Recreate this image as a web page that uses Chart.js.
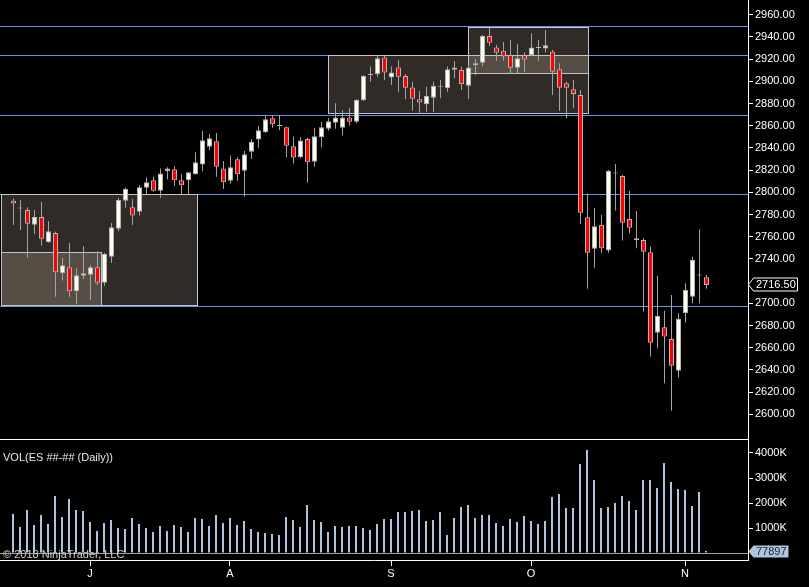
<!DOCTYPE html>
<html><head><meta charset="utf-8">
<script src="https://cdn.jsdelivr.net/npm/chart.js@4.4.1/dist/chart.umd.min.js"></script>
<style>
html,body{margin:0;padding:0;background:#000;overflow:hidden;}
#wrap{position:relative;width:809px;height:587px;background:#000;}
#pc{position:absolute;left:0;top:0;}
#vc{position:absolute;left:0;top:439px;}
.txt{position:absolute;font:11px "Liberation Sans",Arial,sans-serif;white-space:nowrap;line-height:13px;}
</style></head><body>
<div id="wrap">
<canvas id="pc" width="809" height="439"></canvas>
<canvas id="vc" width="809" height="148"></canvas>
<div class="txt" style="left:3px;top:451px;color:#e8e8e8">VOL(ES ##-## (Daily))</div>
<div class="txt" style="left:3px;top:548px;color:#d0d0d0">© 2018 NinjaTrader, LLC</div>
</div>
<script>
const OPEN = [2792.5,2785.5,2784,2770.75,2777.75,2755.25,2763.25,2727,2732.5,2710.75,
2724.75,2725.75,2732.5,2718.5,2742,2767.25,2792.5,2786.5,2782.5,2804,
2810.75,2801.5,2819,2820.75,2810.75,2810.75,2816.25,2825,2841,2846,
2821.5,2810.5,2829.75,2819.5,2836.5,2847.5,2854.25,2866.75,2859.75,2858.5,
2841.5,2831.5,2848,2827.5,2849.5,2857.25,2862.75,2858.25,2867.5,2863.5,
2883.25,2905.75,2906.25,2921.5,2903.5,2912.5,2904.75,2894.5,2883.75,2879.25,
2885.25,2895,2893.75,2910.5,2910.25,2896,2914.5,2916.75,2940.75,2930.5,
2927.5,2923.75,2912.25,2923.5,2923.5,2930,2929.5,2926.75,2910.75,2898.25,
2892.75,2887.75,2777.5,2749.25,2770.5,2747.5,2817,2814.75,2776,2758.5,
2757,2746,2673.5,2678.5,2667.75,2639.25,2691,2706,2725,2723.5];
const HIGH = [2794.5,2793,2786.5,2784,2791.25,2774,2764.5,2740.75,2754.25,2731.5,
2751.5,2734.5,2747,2745.5,2772.25,2795,2804,2794,2806.5,2813.25,
2814,2821.5,2822.5,2823.5,2816.75,2818.25,2836,2855.25,2852.5,2853.5,
2828.25,2833.25,2831.5,2837.25,2848,2859.75,2869,2869,2869.5,2859,
2850,2849.5,2849.25,2858,2863.25,2866.75,2880.25,2874,2876,2883.75,
2905.75,2913.25,2922.75,2922.75,2913.25,2919.25,2906.5,2899.5,2891.25,2895,
2899.5,2901.25,2913.25,2918.25,2913.25,2914.75,2920,2941.75,2948.5,2932.75,
2935.5,2937.25,2933.5,2926,2943.25,2937.25,2946.25,2928.25,2916.25,2899.5,
2901.25,2892.25,2799,2786,2779.5,2820,2825.5,2815.5,2801.25,2783.25,
2758.5,2751,2724.5,2693.25,2707.5,2691,2718,2742,2766.75,2725.5];
const LOW = [2770.5,2766,2741,2762.5,2752,2754.5,2706,2720.5,2706,2699.5,
2722,2703,2716.5,2715.5,2736.5,2765,2786,2770.5,2779,2798.5,
2800.5,2795,2811.75,2805.75,2798.25,2798.25,2816,2819,2838,2814,
2803,2808,2810.5,2796,2830,2840.25,2853.5,2858.25,2856,2831.5,
2826,2830.5,2808.5,2823,2840.5,2855.5,2857.25,2851.5,2860,2862.25,
2882.25,2899.5,2904,2901.25,2896.75,2890.5,2883.75,2873.5,2871.75,2872.5,
2872.5,2884.75,2890.5,2902.75,2892.25,2884,2905.75,2913.75,2931.75,2918.5,
2918.5,2907.25,2907.25,2908.5,2922.75,2918.5,2926,2887.75,2873.5,2866.75,
2875.75,2771.5,2713,2732,2745.5,2745.5,2783.5,2756.5,2763,2749.5,
2692.5,2652,2659.5,2628,2603.25,2633.25,2682.5,2700,2700,2713];
const CLOSE = [2790,2785.5,2771.75,2777.75,2758.25,2765,2728,2734.25,2710.75,2725.25,
2727,2732.5,2718.5,2744.5,2768.5,2793,2803,2779,2804.5,2809,
2801.5,2817,2821.5,2810.75,2806.25,2818,2827,2847,2848.75,2823,
2809,2822.5,2816.25,2834.25,2845.5,2856,2865.75,2861.25,2859.75,2842,
2831.25,2846.75,2827,2850.5,2858.5,2864,2867.5,2867.5,2863.5,2883.25,
2904.75,2905.75,2920.75,2908,2908,2904,2894.25,2884.25,2881,2886.75,
2895.75,2895,2910.75,2912.5,2897.5,2912.5,2916.25,2940.75,2934.75,2925.75,
2922.25,2912.25,2920.75,2919.75,2930.5,2930,2932.5,2908.5,2894.25,2894.25,
2888.5,2781.5,2745.5,2769.5,2749.5,2819.25,2817,2772.5,2768,2756.75,
2746.5,2664.5,2688.5,2670,2643.75,2686,2712,2739,2725,2716.5];
const VOLUME = [1560000,1040000,1720000,1120000,1520000,1160000,2280000,1440000,2160000,1720000,
1680000,1240000,880000,1200000,1320000,1000000,960000,1400000,1160000,1000000,
840000,1080000,880000,1120000,1040000,840000,1400000,1360000,1080000,1520000,
1200000,1400000,1120000,1280000,960000,840000,800000,760000,720000,1440000,
1320000,1040000,1920000,1320000,1240000,840000,1080000,1040000,1080000,1080000,
1000000,920000,1160000,1360000,1360000,1640000,1640000,1680000,1720000,1280000,
1320000,1640000,720000,1400000,1840000,1920000,1400000,1520000,1520000,1200000,
1080000,1360000,1240000,1480000,1280000,1160000,1280000,2240000,2360000,1800000,
1800000,3560000,4120000,2920000,1800000,1840000,2000000,2280000,2080000,1720000,
2920000,2920000,2600000,3600000,2840000,2560000,2520000,1880000,2440000,77897];
const PRICE_TICKS = [2600,2620,2640,2660,2680,2700,2720,2740,2760,2780,2800,2820,2840,2860,2880,2900,2920,2940,2960];
const VOL_TICKS = [0,1000000,2000000,3000000,4000000];
const MONTH_LABELS = ['J','A','S','O','N'];
const MONTH_POS = [11,31,54,74,96];
const LEVELS = [2950,2923.75,2869.5,2798.25,2697.5];
const BOX_X0 = [-1.79,-1.79,44.93,64.93];
const BOX_X1 = [26.21,12.54,82.07,82.07];
const BOX_TOP = [2798.25,2746,2923.75,2949.25];
const BOX_BOT = [2698.5,2698.5,2871.25,2907.5];

const FONT = {family:'"Liberation Sans", Arial, sans-serif', size:11};
const IDX = OPEN.map((_, i) => i);
const LAST_CLOSE = CLOSE[CLOSE.length - 1];
const AXIS_W = 61;
const P_MAX = 2973.25, P_MIN = 2577.75;
const V_MAX = 4560000, V_MIN = -280000;

function bodyColor(i){
  if (CLOSE[i] > OPEN[i]) return '#fffff0';
  if (CLOSE[i] < OPEN[i]) return '#ff0000';
  return '#b4b4b4';
}

const pricePlugin = {
  id:'priceDeco',
  beforeDatasetsDraw(chart){
    const {ctx, chartArea:a, scales:{x, y}} = chart;
    ctx.save();
    ctx.beginPath(); ctx.rect(a.left, a.top, a.right - a.left, a.bottom - a.top); ctx.clip();
    const rects = BOX_X0.map((_, k) => ({
      x0: Math.round(x.getPixelForValue(BOX_X0[k])) + 0.5,
      x1: Math.round(x.getPixelForValue(BOX_X1[k])) + 0.5,
      y0: Math.round(y.getPixelForValue(BOX_TOP[k])) + 0.5,
      y1: Math.round(y.getPixelForValue(BOX_BOT[k])) + 0.5
    }));
    ctx.fillStyle = 'rgba(240,215,190,0.2)';
    rects.forEach(r => ctx.fillRect(r.x0, r.y0, r.x1 - r.x0, r.y1 - r.y0));
    ctx.strokeStyle = '#6495ed'; ctx.lineWidth = 1;
    LEVELS.forEach(v => {
      const py = Math.round(y.getPixelForValue(v)) + 0.5;
      ctx.beginPath(); ctx.moveTo(a.left, py); ctx.lineTo(a.right, py); ctx.stroke();
    });
    ctx.strokeStyle = '#c4c4cc';
    rects.forEach(r => ctx.strokeRect(r.x0, r.y0, r.x1 - r.x0, r.y1 - r.y0));
    ctx.restore();
  },
  afterDraw(chart){
    const {ctx, chartArea:a, scales:{y}} = chart;
    const py = Math.round(y.getPixelForValue(LAST_CLOSE)) - 0.5;
    const x0 = a.right + 0.5, xr = 797.5, h = 6.5;
    ctx.save();
    ctx.beginPath();
    ctx.moveTo(x0, py); ctx.lineTo(x0 + 5, py - h); ctx.lineTo(xr, py - h);
    ctx.lineTo(xr, py + h); ctx.lineTo(x0 + 5, py + h); ctx.closePath();
    ctx.fillStyle = '#000'; ctx.fill();
    ctx.strokeStyle = '#ffffff'; ctx.lineWidth = 1; ctx.stroke();
    ctx.fillStyle = '#ffffff';
    ctx.font = '11px "Liberation Sans", Arial, sans-serif';
    ctx.textBaseline = 'middle'; ctx.textAlign = 'left';
    ctx.fillText(LAST_CLOSE.toFixed(2), 756, py + 0.5);
    ctx.restore();
  }
};

new Chart(document.getElementById('pc'), {
  type:'bar',
  data:{datasets:[
    {label:'body', data: IDX.map(i => ({x:i, y:[OPEN[i], CLOSE[i]]})),
     backgroundColor: IDX.map(bodyColor), borderColor:'#b4b4b4', borderWidth:1,
     borderSkipped:false, barThickness:5, minBarLength:1, grouped:false, inflateAmount:0, order:0},
    {label:'wick', data: IDX.map(i => ({x:i, y:[LOW[i], HIGH[i]]})),
     backgroundColor:'#a4a4a4', borderWidth:0, barThickness:1, grouped:false, inflateAmount:0, order:1}
  ]},
  options:{
    responsive:false, animation:false, events:[],
    layout:{padding:0},
    plugins:{legend:{display:false}, tooltip:{enabled:false}},
    scales:{
      x:{type:'linear', display:false, offset:false, min:-13.5/7, max:(748-13.5)/7},
      y:{type:'linear', position:'right', min:P_MIN, max:P_MAX,
         afterBuildTicks(s){ s.ticks = PRICE_TICKS.map(v => ({value:v})); },
         afterFit(s){ s.width = AXIS_W; s.paddingTop = 0; s.paddingBottom = 0; },
         ticks:{color:'#ffffff', font:FONT, padding:2, autoSkip:false,
                callback:v => Math.abs(v - LAST_CLOSE) < 9 ? '' : Number(v).toFixed(2)},
         grid:{drawOnChartArea:false, tickLength:5,
               tickColor:c => (c.tick && Math.abs(c.tick.value - LAST_CLOSE) < 9) ? 'rgba(0,0,0,0)' : '#ffffff'},
         border:{color:'#ffffff', width:1}}
    }
  },
  plugins:[pricePlugin]
});

const volPlugin = {
  id:'volDeco',
  afterDraw(chart){
    const {ctx, chartArea:a, scales:{y}} = chart;
    ctx.save();
    ctx.strokeStyle = '#ffffff'; ctx.lineWidth = 1;
    ctx.beginPath(); ctx.moveTo(0, a.top + 0.5); ctx.lineTo(a.right, a.top + 0.5); ctx.stroke();
    const last = VOLUME[VOLUME.length - 1];
    const py = Math.round(y.getPixelForValue(last)) + 0.5;
    const x0 = a.right + 0.5, xr = 788.5, h = 6;
    ctx.beginPath();
    ctx.moveTo(x0, py); ctx.lineTo(x0 + 5, py - h); ctx.lineTo(xr, py - h);
    ctx.lineTo(xr, py + h); ctx.lineTo(x0 + 5, py + h); ctx.closePath();
    ctx.fillStyle = '#b0c4de'; ctx.fill();
    ctx.fillStyle = '#1a2638';
    ctx.font = '11px "Liberation Sans", Arial, sans-serif';
    ctx.textBaseline = 'middle'; ctx.textAlign = 'left';
    ctx.fillText(String(last), 756, py + 0.5);
    ctx.restore();
  }
};

new Chart(document.getElementById('vc'), {
  type:'bar',
  data:{datasets:[
    {label:'VOL', data: IDX.map(i => ({x:i, y:VOLUME[i]})),
     backgroundColor:'#b0c4de', borderWidth:0, barThickness:2, grouped:false, inflateAmount:0}
  ]},
  options:{
    responsive:false, animation:false, events:[],
    layout:{padding:0},
    plugins:{legend:{display:false}, tooltip:{enabled:false}},
    scales:{
      x:{type:'linear', offset:false, min:-13/7, max:(748-13)/7,
         afterBuildTicks(s){ s.ticks = MONTH_POS.map(v => ({value:v})); },
         afterFit(s){ s.height = 27; s.paddingLeft = 0; s.paddingRight = 0; },
         ticks:{color:'#ffffff', font:FONT, padding:1, autoSkip:false, maxRotation:0,
                callback:v => MONTH_LABELS[MONTH_POS.indexOf(v)]},
         grid:{drawOnChartArea:false, offset:false, tickLength:6, tickColor:'#ffffff'},
         border:{color:'#ffffff', width:1}},
      y:{type:'linear', position:'right', min:V_MIN, max:V_MAX,
         afterBuildTicks(s){ s.ticks = VOL_TICKS.map(v => ({value:v})); },
         afterFit(s){ s.width = AXIS_W; s.paddingTop = 0; s.paddingBottom = 0; },
         ticks:{color:'#ffffff', font:FONT, padding:2, autoSkip:false,
                callback:v => v === 0 ? '' : (v / 1000) + 'K'},
         grid:{drawOnChartArea:true, tickLength:5,
               color:c => (c.tick && c.tick.value === 0) ? '#a0a0a0' : 'rgba(0,0,0,0)',
               tickColor:c => (c.tick && c.tick.value === 0) ? 'rgba(0,0,0,0)' : '#ffffff'},
         border:{color:'#ffffff', width:1}}
    }
  },
  plugins:[volPlugin]
});
</script>
</body></html>
